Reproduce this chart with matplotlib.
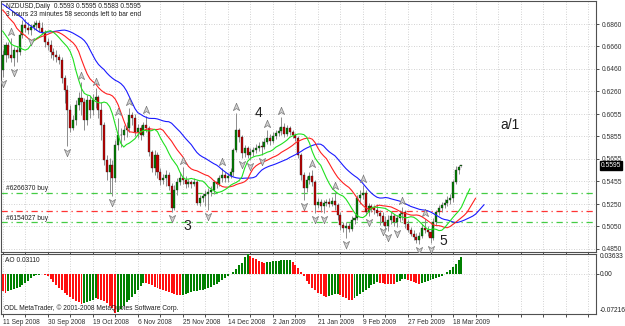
import matplotlib
matplotlib.use('Agg')
import matplotlib.pyplot as plt
from matplotlib.path import Path
from matplotlib.transforms import offset_copy, blended_transform_factory

# daily NZDUSD bars
opens = [0.6448, 0.6582, 0.6671, 0.6582, 0.6555, 0.6627, 0.6609, 0.6761, 0.6850, 0.6823,
         0.6806, 0.6832, 0.6850, 0.6868, 0.6823, 0.6788, 0.6698, 0.6671, 0.6609, 0.6582,
         0.6564, 0.6538, 0.6376, 0.6269, 0.6091, 0.5929, 0.6001, 0.6135, 0.6198, 0.6162,
         0.6001, 0.6180, 0.6091, 0.6180, 0.6207, 0.6091, 0.5956, 0.5644, 0.5536, 0.5599,
         0.5483, 0.5778, 0.5867, 0.5867, 0.5912, 0.5930, 0.6046, 0.6019, 0.5894, 0.5930,
         0.5867, 0.5956, 0.5930, 0.5715, 0.5572, 0.5689, 0.5536, 0.5465, 0.5483, 0.5509,
         0.5411, 0.5214, 0.5375, 0.5447, 0.5483, 0.5465, 0.5429, 0.5447, 0.5429, 0.5447,
         0.5259, 0.5304, 0.5321, 0.5339, 0.5357, 0.5375, 0.5447, 0.5429, 0.5483, 0.5509,
         0.5483, 0.5500, 0.5536, 0.5733, 0.5912, 0.5849, 0.5706, 0.5751, 0.5689, 0.5715,
         0.5733, 0.5751, 0.5769, 0.5760, 0.5804, 0.5840, 0.5813, 0.5858, 0.5885, 0.5903,
         0.5938, 0.5876, 0.5930, 0.5894, 0.5867, 0.5840, 0.5689, 0.5509, 0.5393, 0.5465,
         0.5500, 0.5447, 0.5241, 0.5268, 0.5232, 0.5259, 0.5268, 0.5250, 0.5277, 0.5241,
         0.5152, 0.5063, 0.5036, 0.5054, 0.5027, 0.5107, 0.5125, 0.5304, 0.5330, 0.5348,
         0.5179, 0.5232, 0.5214, 0.5197, 0.5170, 0.5143, 0.5090, 0.5054, 0.5107, 0.5143,
         0.5090, 0.5125, 0.5161, 0.5179, 0.5071, 0.5018, 0.4982, 0.4955, 0.4928, 0.4964,
         0.5036, 0.5018, 0.5000, 0.4946, 0.5090, 0.5179, 0.5214, 0.5241, 0.5259, 0.5286,
         0.5304, 0.5447, 0.5554, 0.5593]
closes = [0.6582, 0.6671, 0.6582, 0.6555, 0.6627, 0.6609, 0.6761, 0.6850, 0.6823, 0.6806,
          0.6832, 0.6850, 0.6868, 0.6823, 0.6788, 0.6698, 0.6671, 0.6609, 0.6582, 0.6564,
          0.6538, 0.6376, 0.6269, 0.6091, 0.5929, 0.6001, 0.6135, 0.6198, 0.6162, 0.6001,
          0.6180, 0.6091, 0.6180, 0.6207, 0.6091, 0.5956, 0.5644, 0.5536, 0.5599, 0.5483,
          0.5778, 0.5867, 0.5867, 0.5912, 0.5930, 0.6046, 0.6019, 0.5894, 0.5930, 0.5867,
          0.5956, 0.5930, 0.5715, 0.5572, 0.5689, 0.5536, 0.5465, 0.5483, 0.5509, 0.5411,
          0.5214, 0.5375, 0.5447, 0.5483, 0.5465, 0.5429, 0.5447, 0.5429, 0.5447, 0.5259,
          0.5304, 0.5321, 0.5339, 0.5357, 0.5375, 0.5447, 0.5429, 0.5483, 0.5509, 0.5483,
          0.5500, 0.5536, 0.5733, 0.5912, 0.5849, 0.5706, 0.5751, 0.5689, 0.5715, 0.5733,
          0.5751, 0.5769, 0.5760, 0.5804, 0.5840, 0.5813, 0.5858, 0.5885, 0.5903, 0.5938,
          0.5876, 0.5930, 0.5894, 0.5867, 0.5840, 0.5689, 0.5509, 0.5393, 0.5465, 0.5500,
          0.5447, 0.5241, 0.5268, 0.5232, 0.5259, 0.5268, 0.5250, 0.5277, 0.5241, 0.5152,
          0.5063, 0.5036, 0.5054, 0.5027, 0.5107, 0.5125, 0.5304, 0.5330, 0.5348, 0.5179,
          0.5232, 0.5214, 0.5197, 0.5170, 0.5143, 0.5090, 0.5054, 0.5107, 0.5143, 0.5090,
          0.5125, 0.5161, 0.5179, 0.5071, 0.5018, 0.4982, 0.4955, 0.4928, 0.4964, 0.5036,
          0.5018, 0.5000, 0.4946, 0.5090, 0.5179, 0.5214, 0.5241, 0.5259, 0.5286, 0.5304,
          0.5447, 0.5554, 0.5581, 0.5595]
highs = [0.6627, 0.6698, 0.6698, 0.6734, 0.6653, 0.6662, 0.6788, 0.6895, 0.6904, 0.6877,
         0.6859, 0.6886, 0.6895, 0.6895, 0.6877, 0.6806, 0.6734, 0.6716, 0.6644, 0.6627,
         0.6591, 0.6564, 0.6403, 0.6314, 0.6135, 0.6046, 0.6180, 0.6251, 0.6341, 0.6198,
         0.6224, 0.6215, 0.6233, 0.6287, 0.6224, 0.6162, 0.5983, 0.5689, 0.5662, 0.5644,
         0.5822, 0.6019, 0.5930, 0.5956, 0.5983, 0.6109, 0.6073, 0.6055, 0.5965, 0.5956,
         0.5983, 0.6037, 0.5947, 0.5733, 0.5733, 0.5715, 0.5572, 0.5518, 0.5554, 0.5536,
         0.5438, 0.5420, 0.5483, 0.5536, 0.5581, 0.5500, 0.5474, 0.5465, 0.5483, 0.5465,
         0.5330, 0.5348, 0.5375, 0.5393, 0.5411, 0.5465, 0.5483, 0.5509, 0.5572, 0.5536,
         0.5527, 0.5572, 0.5751, 0.6064, 0.5930, 0.5867, 0.5778, 0.5769, 0.5751, 0.5760,
         0.5787, 0.5804, 0.5813, 0.5840, 0.5912, 0.5876, 0.5894, 0.5912, 0.5938, 0.6028,
         0.5974, 0.5956, 0.5947, 0.5912, 0.5885, 0.5858, 0.5706, 0.5536, 0.5500, 0.5536,
         0.5554, 0.5465, 0.5304, 0.5295, 0.5286, 0.5295, 0.5304, 0.5313, 0.5357, 0.5259,
         0.5179, 0.5090, 0.5090, 0.5081, 0.5143, 0.5161, 0.5330, 0.5375, 0.5420, 0.5375,
         0.5259, 0.5250, 0.5241, 0.5250, 0.5197, 0.5179, 0.5143, 0.5152, 0.5179, 0.5161,
         0.5152, 0.5197, 0.5223, 0.5197, 0.5107, 0.5045, 0.5018, 0.4991, 0.5000, 0.5071,
         0.5116, 0.5054, 0.5036, 0.5125, 0.5197, 0.5241, 0.5268, 0.5295, 0.5321, 0.5339,
         0.5465, 0.5590, 0.5599, 0.5595]
lows = [0.6385, 0.6520, 0.6555, 0.6520, 0.6484, 0.6520, 0.6582, 0.6734, 0.6788, 0.6770,
        0.6761, 0.6806, 0.6806, 0.6788, 0.6770, 0.6653, 0.6627, 0.6555, 0.6538, 0.6520,
        0.6502, 0.6332, 0.6153, 0.5768, 0.5894, 0.5912, 0.5956, 0.6091, 0.6046, 0.5912,
        0.5956, 0.6019, 0.6046, 0.6109, 0.6019, 0.5822, 0.5599, 0.5465, 0.5348, 0.5321,
        0.5447, 0.5733, 0.5760, 0.5822, 0.5849, 0.5894, 0.5956, 0.5858, 0.5840, 0.5822,
        0.5858, 0.5894, 0.5679, 0.5536, 0.5509, 0.5483, 0.5420, 0.5429, 0.5411, 0.5375,
        0.5179, 0.5197, 0.5330, 0.5420, 0.5429, 0.5393, 0.5402, 0.5393, 0.5411, 0.5241,
        0.5232, 0.5268, 0.5232, 0.5197, 0.5321, 0.5339, 0.5393, 0.5411, 0.5447, 0.5447,
        0.5447, 0.5483, 0.5500, 0.5715, 0.5804, 0.5662, 0.5670, 0.5662, 0.5644, 0.5679,
        0.5706, 0.5724, 0.5689, 0.5742, 0.5787, 0.5778, 0.5795, 0.5831, 0.5858, 0.5867,
        0.5849, 0.5858, 0.5867, 0.5840, 0.5813, 0.5662, 0.5465, 0.5286, 0.5357, 0.5429,
        0.5411, 0.5170, 0.5214, 0.5179, 0.5170, 0.5232, 0.5223, 0.5232, 0.5197, 0.5107,
        0.5018, 0.5000, 0.4946, 0.5000, 0.5009, 0.5071, 0.5107, 0.5250, 0.5295, 0.5152,
        0.5143, 0.5179, 0.5161, 0.5143, 0.5063, 0.5063, 0.5027, 0.5009, 0.5071, 0.5054,
        0.5045, 0.5090, 0.5107, 0.5036, 0.5000, 0.4964, 0.4928, 0.4901, 0.4892, 0.4946,
        0.4991, 0.4964, 0.4901, 0.4928, 0.5063, 0.5152, 0.5179, 0.5214, 0.5232, 0.5250,
        0.5268, 0.5429, 0.5518, 0.5583]

# Awesome Oscillator histogram values
ao = [-0.032, -0.034, -0.032, -0.030, -0.028, -0.026, -0.024, -0.020, -0.016, -0.012,
      -0.008, -0.004, -0.002, -0.001, -0.0005, -0.001, -0.004, -0.009, -0.015, -0.020,
      -0.025, -0.030, -0.034, -0.038, -0.042, -0.046, -0.049, -0.052, -0.055, -0.053,
      -0.051, -0.049, -0.047, -0.045, -0.046, -0.048, -0.050, -0.054, -0.058, -0.063,
      -0.0721, -0.069, -0.064, -0.058, -0.052, -0.048, -0.042, -0.036, -0.030, -0.022,
      -0.016, -0.017, -0.019, -0.021, -0.023, -0.025, -0.027, -0.029, -0.031, -0.033,
      -0.035, -0.037, -0.038, -0.039, -0.038, -0.036, -0.035, -0.033, -0.032, -0.031,
      -0.030, -0.029, -0.028, -0.026, -0.024, -0.021, -0.018, -0.015, -0.011, -0.008,
      -0.004, 0.000, 0.004, 0.010, 0.016, 0.021, 0.031, 0.0363, 0.034, 0.030,
      0.027, 0.024, 0.022, 0.021, 0.022, 0.023, 0.0235, 0.024, 0.0245, 0.025,
      0.0255, 0.026, 0.0265, 0.022, 0.017, 0.011, 0.004, -0.004, -0.012, -0.019,
      -0.025, -0.030, -0.034, -0.037, -0.040, -0.042, -0.041, -0.039, -0.037, -0.036,
      -0.039, -0.042, -0.045, -0.047, -0.048, -0.045, -0.041, -0.037, -0.033, -0.029,
      -0.025, -0.021, -0.018, -0.015, -0.016, -0.017, -0.0175, -0.018, -0.0185, -0.019,
      -0.015, -0.012, -0.010, -0.009, -0.011, -0.013, -0.015, -0.017, -0.018, -0.017,
      -0.015, -0.013, -0.011, -0.009, -0.007, -0.005, -0.003, 0.000, 0.003, 0.007,
      0.012, 0.018, 0.025, 0.0311]

# Alligator values left of the first bar's own contribution
jaw_head = [0.7038, 0.7020, 0.7002, 0.6985, 0.6967, 0.6949, 0.6931, 0.6913]
teeth_head = [0.6985, 0.6958, 0.6922, 0.6895, 0.6868]
lips_head = [0.6797, 0.6761, 0.6725]

up_fractals = [3, 28, 33, 41, 45, 51, 64, 78, 83, 94, 99, 110, 118, 128, 142, 150]
down_fractals = [0, 4, 10, 23, 39, 60, 73, 85, 88, 92, 107, 111, 114, 122, 130, 135,
                 137, 140, 148, 152]

date_labels = ['11 Sep 2008', '30 Sep 2008', '19 Oct 2008', '6 Nov 2008', '25 Nov 2008',
               '14 Dec 2008', '2 Jan 2009', '21 Jan 2009', '9 Feb 2009', '27 Feb 2009',
               '18 Mar 2009']
price_ticks = [0.6860, 0.6660, 0.6460, 0.6260, 0.6055, 0.5855, 0.5655, 0.5455,
               0.5250, 0.5050, 0.4850]
order_lines = [0.5346, 0.5190, 0.5087]
last_price = 0.5595

W, H = 625, 326
FONT = 'Liberation Sans'
plt.rcParams['font.family'] = [FONT, 'DejaVu Sans']


def px(x, y):
    return x / W, 1 - y / H


def smma(head, median, period):
    vals = list(head)
    last = head[-1]
    for m in median:
        last = (last * (period - 1) + m) / period
        vals.append(last)
    return vals


n = len(closes)
idx = list(range(n))
median = [(h + l) / 2 for h, l in zip(highs, lows)]
jaw = smma(jaw_head, median, 13)
teeth = smma(teeth_head, median, 8)
lips = smma(lips_head, median, 5)

fig = plt.figure(figsize=(W / 100, H / 100), dpi=100)
ax = fig.add_axes([1 / W, 1 - 252 / H, 595 / W, 251 / H])
ax2 = fig.add_axes([1 / W, 1 - 314 / H, 595 / W, 60 / H], sharex=ax)

grid_kw = dict(color='#c4c4c4', linestyle=(0, (1, 2)), linewidth=0.6)
for a in (ax, ax2):
    for s in a.spines.values():
        s.set_color('#505050')
        s.set_linewidth(0.8)
    a.set_xticks(range(0, 212, 8), minor=True)
    a.set_xticks(range(0, 161, 16))
    a.grid(True, which='both', axis='x', **grid_kw)
    a.grid(True, which='major', axis='y', **grid_kw)
    a.set_axisbelow(True)
    a.yaxis.tick_right()
    a.tick_params(which='both', length=2, width=0.6, colors='#303030',
                  labelsize=4.8, pad=2)
ax.set_xlim(-0.6, 210.8)

# main price panel
ax.set_ylim(0.4822, 0.7066)
ax.set_yticks(price_ticks)
ax.set_yticklabels(['%.4f' % p for p in price_ticks])
ax.tick_params(axis='x', which='both', labelbottom=False)

ax.vlines(idx, lows, highs, color='#8c8c8c', linewidth=0.7, zorder=2)
body_col = ['#008000' if c >= o else '#c00000' for o, c in zip(opens, closes)]
body_h = [c - o if abs(c - o) > 0.0003 else 0.0003 for o, c in zip(opens, closes)]
ax.bar(idx, body_h, bottom=opens, width=0.72, color=body_col,
       edgecolor='#202020', linewidth=0.25, zorder=3)

ax.plot(range(len(jaw)), jaw, color='#1a1aff', linewidth=0.8, zorder=4)
ax.plot(range(len(teeth)), teeth, color='#ff2020', linewidth=0.8, zorder=4)
ax.plot(range(len(lips)), lips, color='#20e020', linewidth=0.8, zorder=4)

for lvl, col in zip(order_lines, ['#44cc44', '#ff3333', '#44cc44']):
    ax.axhline(lvl, color=col, linestyle=(0, (5, 3, 1, 3)), linewidth=0.9, zorder=1)

arrow_up = Path([(0, 1), (0.75, -0.75), (0, -0.25), (-0.75, -0.75), (0, 1)])
arrow_dn = Path([(0, -1), (0.75, 0.75), (0, 0.25), (-0.75, 0.75), (0, -1)])
tr_up = offset_copy(ax.transData, fig=fig, y=6, units='dots')
tr_dn = offset_copy(ax.transData, fig=fig, y=-6, units='dots')
ax.plot(up_fractals, [highs[i] for i in up_fractals], linestyle='none',
        marker=arrow_up, markersize=6, markerfacecolor='#cfcfcf',
        markeredgecolor='#7a7a7a', markeredgewidth=0.5, transform=tr_up, zorder=5)
ax.plot(down_fractals, [lows[i] for i in down_fractals], linestyle='none',
        marker=arrow_dn, markersize=6, markerfacecolor='#cfcfcf',
        markeredgecolor='#7a7a7a', markeredgewidth=0.5, transform=tr_dn, zorder=5)

# current price box on the scale
bt = blended_transform_factory(ax.transAxes, ax.transData)
ax.text(1.008, last_price, '%.4f' % last_price, transform=bt, fontsize=4.8,
        color='white', va='center', ha='left',
        bbox=dict(boxstyle='square,pad=0.15', fc='black', ec='black'))

# AO panel
ao_col = ['#c00000'] + ['#008000' if ao[i] > ao[i - 1] else '#ff1010'
                        for i in range(1, n)]
ao_col[0] = '#ff1010'
ax2.bar(idx, ao, width=0.7, color=ao_col, zorder=3)
ax2.set_ylim(-0.0735, 0.0368)
ax2.set_yticks([0.0])
ax2.set_yticklabels([''])
ax2.grid(True, which='major', axis='y', **grid_kw)
ax2.set_xticklabels(date_labels)
for lab in ax2.get_xticklabels():
    lab.set_horizontalalignment('left')
ax2.tick_params(axis='x', which='major', pad=1.5)

txt = dict(fontsize=4.8, color='#202020')
fig.text(*px(600, 257), '0.03633', va='center', **txt)
fig.text(*px(600, 274), '0.00', va='center', **txt)
fig.text(*px(600, 310), '-0.07216', va='center', **txt)

fig.text(*px(6, 7), 'NZDUSD,Daily  0.5593 0.5595 0.5583 0.5595', va='center', **txt)
fig.text(*px(6, 15), '3 hours 23 minutes 58 seconds left to bar end', va='center', **txt)
fig.text(*px(6, 189), '#6266370 buy', va='center', **txt)
fig.text(*px(6, 218), '#6154027 buy', va='center', **txt)
fig.text(*px(5, 261), 'AO 0.03110', va='center', **txt)
fig.text(*px(4, 308), 'ODL MetaTrader, \u00a9 2001-2008 MetaQuotes Software Corp.',
         va='center', **txt)

big = dict(fontsize=10, color='#202020', va='center', ha='left')
fig.text(*px(255, 113), '4', **big)
fig.text(*px(183, 226), '3', **big)
fig.text(*px(439, 241), '5', **big)
fig.text(*px(500, 125), 'a/1', **big)

plt.savefig('out.png', dpi=100)
plt.close(fig)
